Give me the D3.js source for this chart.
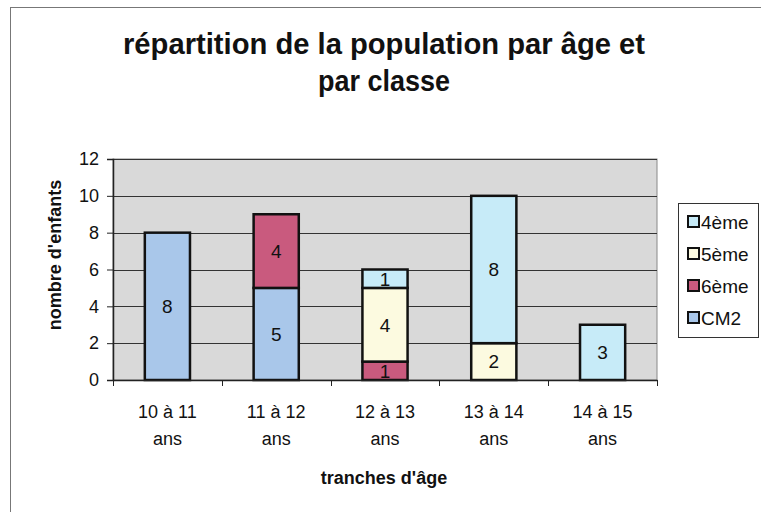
<!DOCTYPE html>
<html>
<head>
<meta charset="utf-8">
<script src="https://cdn.jsdelivr.net/npm/d3@7"></script>
<style>
  body { margin: 0; background: #fff; }
  svg { display: block; font-family: "Liberation Sans", Arial, sans-serif; }
</style>
</head>
<body>
<div id="chart"></div>
<script>
// categories and series (stacked, bottom to top: CM2, 6ème, 5ème, 4ème)
const ageGroups = ['10 à 11 ans', '11 à 12 ans', '12 à 13 ans', '13 à 14 ans', '14 à 15 ans'];
const classes = ['CM2', '6ème', '5ème', '4ème'];
const cm2 = [8, 5, 0, 0, 0];
const sixieme = [0, 4, 1, 0, 0];
const cinquieme = [0, 0, 4, 2, 0];
const quatrieme = [0, 0, 1, 8, 3];
const yTicks = [0, 2, 4, 6, 8, 10, 12];
const legendOrder = ['4ème', '5ème', '6ème', 'CM2'];

const colors = {
    'CM2': '#a9c7ea',
    '6ème': '#c95a7e',
    '5ème': '#fcfae0',
    '4ème': '#c7ebf8'
};

const width = 761;
const height = 512;
const margin = { left: 113, right: 104, top: 159, bottom: 132 };
const contentWidth = width - margin.left - margin.right;
const contentHeight = height - margin.top - margin.bottom;

const rows = ageGroups.map((g, i) => ({
    group: g,
    'CM2': cm2[i],
    '6ème': sixieme[i],
    '5ème': cinquieme[i],
    '4ème': quatrieme[i]
}));

const series = d3.stack().keys(classes)(rows);

const svg = d3.select('#chart')
    .append('svg')
    .attr('width', width)
    .attr('height', height);

// outer frame
svg.append('rect')
    .attr('x', 10.5).attr('y', 7.5)
    .attr('width', 760).attr('height', 520)
    .attr('fill', 'none')
    .attr('stroke', '#777')
    .attr('stroke-width', 1);

// title
const title = svg.append('text')
    .attr('text-anchor', 'middle')
    .attr('font-weight', 'bold')
    .attr('font-size', 30)
    .attr('fill', '#111');
title.append('tspan').attr('x', 384).attr('y', 54)
    .attr('textLength', 522).attr('lengthAdjust', 'spacingAndGlyphs')
    .text('répartition de la population par âge et');
title.append('tspan').attr('x', 384).attr('y', 91)
    .attr('textLength', 132).attr('lengthAdjust', 'spacingAndGlyphs')
    .text('par classe');

const xScale = d3.scaleBand()
    .domain(ageGroups)
    .range([0, contentWidth])
    .paddingInner(0.585)
    .paddingOuter(0.2925);

const yScale = d3.scaleLinear()
    .domain([0, 12])
    .range([contentHeight, 0]);

const g = svg.append('g')
    .attr('transform', `translate(${margin.left},${margin.top})`);

// plot background
g.append('rect')
    .attr('width', contentWidth)
    .attr('height', contentHeight)
    .attr('fill', '#d9d9d9')
    .attr('stroke', '#888')
    .attr('stroke-width', 1);

// gridlines
g.append('g')
    .selectAll('line')
    .data(yTicks.filter(t => t > 0))
    .enter()
    .append('line')
    .attr('x1', 0).attr('x2', contentWidth)
    .attr('y1', d => Math.round(yScale(d)) + 0.5)
    .attr('y2', d => Math.round(yScale(d)) + 0.5)
    .attr('stroke', '#333')
    .attr('stroke-width', 1.2);

// bars
const layer = g.append('g').classed('bars', true)
    .selectAll('g')
    .data(series)
    .enter()
    .append('g')
    .attr('fill', d => colors[d.key]);

layer.selectAll('rect')
    .data(d => d.filter(s => s[1] - s[0] > 0))
    .enter()
    .append('rect')
    .attr('x', d => xScale(d.data.group))
    .attr('y', d => yScale(d[1]))
    .attr('width', xScale.bandwidth())
    .attr('height', d => yScale(d[0]) - yScale(d[1]))
    .attr('stroke', '#111')
    .attr('stroke-width', 2.5);

// value labels
layer.selectAll('text')
    .data(d => d.filter(s => s[1] - s[0] > 0))
    .enter()
    .append('text')
    .attr('x', d => xScale(d.data.group) + xScale.bandwidth() / 2)
    .attr('y', d => (yScale(d[0]) + yScale(d[1])) / 2)
    .attr('dy', '0.36em')
    .attr('text-anchor', 'middle')
    .attr('font-size', 19)
    .attr('fill', '#111')
    .text(d => d[1] - d[0]);

// y axis
const yAxis = g.append('g')
    .call(d3.axisLeft(yScale).tickValues(yTicks).tickSize(6).tickPadding(8));
yAxis.select('.domain').attr('stroke', '#222').attr('stroke-width', 1.5);
yAxis.selectAll('.tick line').attr('stroke', '#222');
yAxis.selectAll('.tick text')
    .attr('font-size', 18)
    .attr('font-family', '"Liberation Sans", Arial, sans-serif')
    .attr('fill', '#111');

// x axis
const xAxis = g.append('g')
    .attr('transform', `translate(0,${contentHeight})`)
    .call(d3.axisBottom(xScale).tickSize(0).tickFormat(''));
xAxis.select('.domain').attr('stroke', '#222').attr('stroke-width', 1.5);

// x ticks between categories
const step = xScale.step();
g.append('g')
    .selectAll('line')
    .data(d3.range(ageGroups.length + 1))
    .enter()
    .append('line')
    .attr('x1', d => Math.round(d * step) + 0.5)
    .attr('x2', d => Math.round(d * step) + 0.5)
    .attr('y1', contentHeight)
    .attr('y2', contentHeight + 6)
    .attr('stroke', '#222');

// x tick labels (two lines)
const xLabels = g.append('g')
    .selectAll('text')
    .data(ageGroups)
    .enter()
    .append('text')
    .attr('text-anchor', 'middle')
    .attr('font-size', 18)
    .attr('fill', '#111');
xLabels.append('tspan')
    .attr('x', d => xScale(d) + xScale.bandwidth() / 2)
    .attr('y', contentHeight + 38)
    .text(d => d.replace(/ ans$/, ''));
xLabels.append('tspan')
    .attr('x', d => xScale(d) + xScale.bandwidth() / 2)
    .attr('y', contentHeight + 65)
    .text('ans');

// axis titles
svg.append('text')
    .attr('x', 384)
    .attr('y', 484)
    .attr('text-anchor', 'middle')
    .attr('font-size', 18)
    .attr('font-weight', 'bold')
    .attr('fill', '#111')
    .text("tranches d'âge");

svg.append('text')
    .attr('transform', 'translate(61,255) rotate(-90)')
    .attr('text-anchor', 'middle')
    .attr('font-size', 18)
    .attr('font-weight', 'bold')
    .attr('fill', '#111')
    .text("nombre d'enfants");

// legend
const legend = svg.append('g')
    .attr('transform', 'translate(678,203)');
legend.append('rect')
    .attr('x', 0.5).attr('y', 0.5)
    .attr('width', 80).attr('height', 134)
    .attr('fill', '#fff')
    .attr('stroke', '#333');

const items = legend.selectAll('g.item')
    .data(legendOrder)
    .enter()
    .append('g')
    .classed('item', true)
    .attr('transform', (d, i) => `translate(10,${19 + i * 32})`);
items.append('rect')
    .attr('x', 0).attr('y', -6)
    .attr('width', 11).attr('height', 11)
    .attr('fill', d => colors[d])
    .attr('stroke', '#111')
    .attr('stroke-width', 2);
items.append('text')
    .attr('x', 13)
    .attr('y', 0)
    .attr('dy', '0.36em')
    .attr('font-size', 19)
    .attr('fill', '#111')
    .text(d => d);
</script>
</body>
</html>
